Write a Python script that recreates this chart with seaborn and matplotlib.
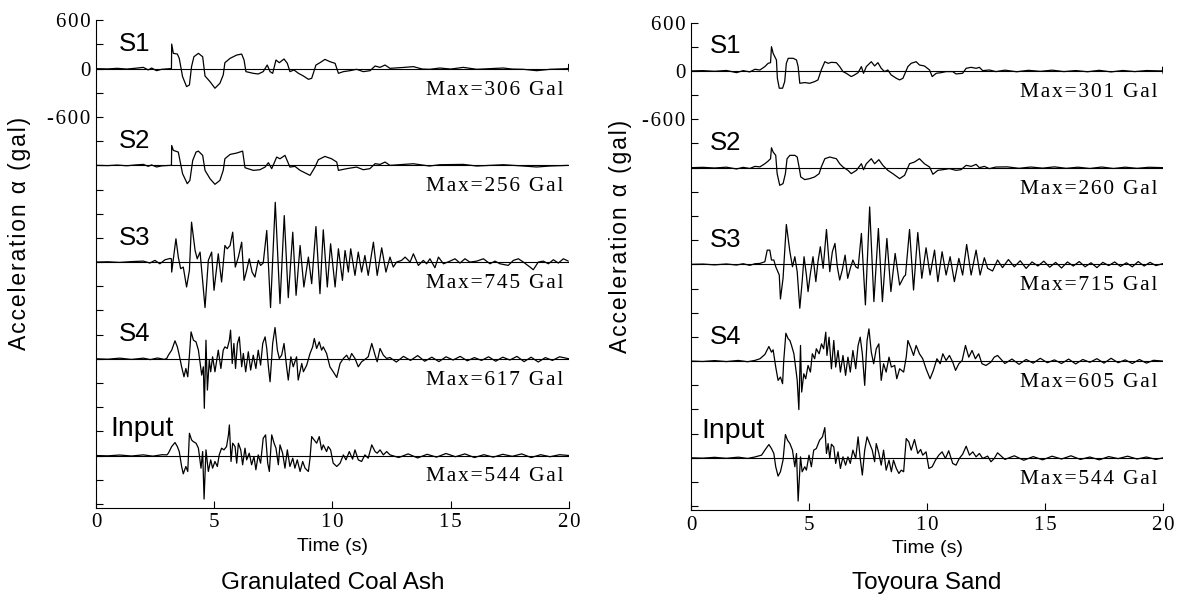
import numpy as np
import pandas as pd
import matplotlib
matplotlib.use("Agg")
import matplotlib.pyplot as plt
import seaborn as sns

sns.set_style("ticks")
plt.rcParams['font.family'] = ['Liberation Sans', 'DejaVu Sans']
plt.rcParams['text.color'] = 'black'
plt.rcParams['axes.labelcolor'] = 'black'
plt.rcParams['xtick.color'] = 'black'
plt.rcParams['ytick.color'] = 'black'

# ---------------- data (time s, acceleration gal) ----------------
# Granulated Coal Ash
gca_s1_t = [0.0, 0.5, 0.9, 1.3, 1.7, 2.0, 2.21, 2.35, 2.56, 2.78, 3.13, 3.19, 3.20, 3.27, 3.44, 3.52, 3.66, 3.83, 3.95, 4.04, 4.14, 4.33, 4.51, 4.61, 4.82, 5.03, 5.24, 5.38, 5.45, 5.67, 5.95, 6.16, 6.26, 6.34, 6.65, 6.86, 7.07, 7.24, 7.36, 7.47, 7.61, 7.75, 7.95, 8.09, 8.20, 8.37, 8.56, 8.77, 8.98, 9.12, 9.30, 9.47, 9.68, 9.89, 10.11, 10.25, 10.46, 10.74, 11.02, 11.30, 11.59, 11.80, 12.01, 12.22, 12.43, 13.0, 13.42, 13.8, 14.12, 14.54, 15.0, 15.53, 16.1, 16.66, 17.22, 17.6, 18.07, 18.63, 19.2, 19.97, 20.0, 20.0]
gca_s1_a = [0, -3, 4, -5, 6, 16, -16, 8, -25, -8, 0, 0, 305, 190, 181, 128, -99, -223, -202, 25, 148, 190, 148, -91, -161, -243, -181, -78, 74, 128, 169, 181, 107, -37, -58, -66, -37, 45, -37, -58, 107, 74, 120, 66, -37, -16, -58, -91, -132, -120, 45, 74, 115, 87, 66, -58, -37, -25, -8, -37, -25, 33, 16, 45, 4, 15, 25, -5, -8, 8, -5, 16, -8, 0, 8, -5, -8, -25, -8, 0, 55, -35]

gca_s2_t = [0.0, 0.5, 0.9, 1.3, 1.7, 2.0, 2.21, 2.35, 2.56, 2.78, 3.13, 3.19, 3.20, 3.27, 3.48, 3.66, 3.86, 3.97, 4.09, 4.23, 4.33, 4.51, 4.61, 4.82, 5.03, 5.24, 5.38, 5.45, 5.67, 5.95, 6.20, 6.30, 6.65, 6.93, 7.15, 7.29, 7.43, 7.64, 7.78, 7.99, 8.20, 8.41, 8.63, 9.05, 9.26, 9.40, 9.68, 9.96, 10.18, 10.25, 10.60, 11.02, 11.30, 11.58, 11.80, 12.01, 12.22, 12.43, 13.0, 13.42, 14.1, 14.54, 15.53, 16.1, 17.22, 18.07, 18.63, 19.2, 19.97]
gca_s2_a = [0, -3, 4, -5, 6, 12, -12, 6, -20, -6, 0, 0, 247, 186, 165, -103, -227, -186, 62, 165, 177, 124, -62, -165, -235, -186, -62, 82, 136, 153, 177, -29, -62, -54, -21, 33, -41, 103, 82, 124, -21, -12, -62, -124, -21, 70, 111, 82, 41, -62, -41, -21, -54, -41, 21, 12, 41, 0, 12, 20, -8, 8, 12, -8, 8, -8, -20, -8, 0]

gca_s3_t = [0.0, 0.5, 1.0, 1.5, 2.0, 2.28, 2.49, 2.70, 2.92, 3.13, 3.19, 3.20, 3.38, 3.48, 3.58, 3.69, 3.83, 3.95, 4.04, 4.19, 4.28, 4.40, 4.61, 4.75, 4.89, 4.99, 5.17, 5.31, 5.45, 5.55, 5.67, 5.78, 5.89, 6.02, 6.16, 6.26, 6.37, 6.48, 6.60, 6.72, 6.86, 6.96, 7.07, 7.22, 7.38, 7.58, 7.78, 7.96, 8.13, 8.32, 8.46, 8.63, 8.79, 8.98, 9.12, 9.30, 9.47, 9.61, 9.78, 9.92, 10.11, 10.25, 10.42, 10.53, 10.67, 10.77, 10.95, 11.09, 11.23, 11.37, 11.51, 11.73, 11.89, 12.08, 12.26, 12.43, 12.57, 12.71, 12.92, 13.07, 13.28, 13.42, 13.63, 13.84, 13.98, 14.12, 14.33, 14.48, 14.69, 14.97, 15.18, 15.39, 15.60, 15.81, 16.10, 16.38, 16.66, 16.87, 17.08, 17.43, 17.65, 17.86, 18.07, 18.35, 18.49, 18.70, 18.91, 19.13, 19.34, 19.55, 19.76, 19.97]
gca_s3_a = [0, 4, -4, 6, 12, -12, 21, -21, 29, 45, 40, -124, 289, 62, -82, -62, -309, -103, 495, 144, 41, 124, -565, 21, 124, -350, 103, -247, 206, 165, 206, 371, -62, 62, 247, -227, -103, 41, -124, -186, 21, -41, -12, 392, -565, 742, -515, 577, -441, 371, -412, 206, -309, 62, -268, 441, -392, 400, -309, 227, -309, 165, -227, 144, -124, 165, -165, 124, -124, 82, -165, 247, -165, 177, -124, 62, -62, 0, 21, 62, 0, 103, -41, 21, -21, 41, -70, 62, -21, 12, 41, -12, 41, 0, 12, 41, -21, 12, -21, -41, 21, 41, 0, -62, -95, 0, 12, -21, 29, -12, 41, 12]

gca_s4_t = [0.0, 0.5, 1.0, 1.5, 2.0, 2.3, 2.6, 2.9, 3.0, 3.06, 3.20, 3.34, 3.44, 3.52, 3.62, 3.72, 3.80, 3.88, 3.95, 4.02, 4.12, 4.23, 4.33, 4.47, 4.54, 4.58, 4.65, 4.71, 4.79, 4.85, 4.93, 5.03, 5.17, 5.28, 5.38, 5.45, 5.55, 5.64, 5.69, 5.76, 5.83, 5.90, 5.98, 6.06, 6.16, 6.23, 6.33, 6.44, 6.54, 6.65, 6.76, 6.86, 6.96, 7.05, 7.15, 7.22, 7.29, 7.36, 7.47, 7.57, 7.67, 7.75, 7.85, 7.95, 8.06, 8.13, 8.24, 8.34, 8.48, 8.55, 8.70, 8.77, 8.91, 9.05, 9.16, 9.23, 9.33, 9.44, 9.54, 9.61, 9.75, 9.89, 10.03, 10.18, 10.32, 10.46, 10.60, 10.71, 10.81, 10.95, 11.09, 11.23, 11.37, 11.51, 11.66, 11.80, 11.89, 12.01, 12.15, 12.29, 12.43, 12.7, 13.0, 13.3, 13.6, 13.9, 14.2, 14.5, 14.8, 15.1, 15.4, 15.7, 16.0, 16.3, 16.6, 16.9, 17.2, 17.5, 17.8, 18.1, 18.4, 18.7, 19.0, 19.3, 19.6, 20.0]
gca_s4_a = [0, -5, 8, -8, 8, -10, 10, -8, 8, 45, 107, 223, 148, 45, -99, -223, -120, -223, 45, 334, 231, 210, 107, -202, -99, -614, 231, -388, -16, -161, 25, -161, 107, -120, 107, 148, 128, 231, 355, -58, 190, -120, 190, 272, -99, 66, -161, 87, -140, 45, -120, 107, -78, 190, 272, 128, -99, -285, 190, 388, 107, 4, 45, 190, -99, -264, 25, -99, 25, -264, -58, -161, -78, 66, 148, 252, 128, 210, 107, 148, 66, -99, -161, -231, -58, 4, 45, -16, 66, 4, -99, -37, -8, 25, 190, 45, -37, 128, 45, 4, 16, -40, 30, -20, 40, -30, 20, -35, 25, -15, 30, -25, 15, -20, 25, -30, 20, -15, 30, -35, 20, -40, 15, -20, 25, 0]

gca_in_t = [0.0, 0.5, 1.0, 1.5, 2.0, 2.4, 2.8, 3.0, 3.06, 3.20, 3.34, 3.44, 3.52, 3.62, 3.69, 3.80, 3.88, 3.95, 4.04, 4.11, 4.23, 4.33, 4.44, 4.51, 4.57, 4.65, 4.75, 4.85, 4.93, 5.03, 5.13, 5.21, 5.31, 5.41, 5.52, 5.60, 5.64, 5.71, 5.78, 5.88, 5.95, 6.02, 6.12, 6.20, 6.30, 6.37, 6.48, 6.58, 6.68, 6.76, 6.86, 6.96, 7.07, 7.17, 7.26, 7.33, 7.43, 7.53, 7.61, 7.71, 7.78, 7.89, 7.99, 8.09, 8.20, 8.32, 8.41, 8.51, 8.63, 8.74, 8.84, 8.98, 9.05, 9.12, 9.22, 9.33, 9.44, 9.54, 9.61, 9.75, 9.82, 9.92, 10.03, 10.18, 10.32, 10.46, 10.57, 10.71, 10.85, 10.95, 11.09, 11.23, 11.37, 11.51, 11.66, 11.80, 11.89, 12.01, 12.15, 12.29, 12.43, 12.8, 13.2, 13.6, 14.0, 14.4, 14.8, 15.2, 15.6, 16.0, 16.4, 16.8, 17.2, 17.6, 18.0, 18.4, 18.8, 19.2, 19.6, 20.0]
gca_in_a = [0, -4, 6, -6, 8, -8, 10, 8, 29, 111, 161, 111, 49, -136, -227, -136, -198, 276, 194, 173, 153, 91, -157, 49, -540, 70, -198, -54, -157, -74, -136, 8, 91, 70, 111, 256, 379, -74, 153, 111, -95, 153, 70, -115, 91, -54, 29, -115, -12, -177, 8, -95, 214, 256, -95, -198, 256, 153, 91, -115, 132, 29, -157, 70, -136, -33, -157, -54, -198, -74, -157, -198, -33, 235, 194, 153, 235, 70, 132, 49, 111, 70, -95, -136, -95, 8, -54, 49, -45, 70, -54, -74, 8, -33, 132, 49, 29, 70, 8, 49, 8, -25, 20, -30, 15, -20, 25, -15, 20, -25, 10, -20, 15, -10, 20, -25, 10, -15, 10, 0]

# Toyoura Sand
ts_s1_t = [0.0, 0.5, 1.0, 1.5, 1.93, 2.21, 2.49, 2.71, 2.92, 3.13, 3.27, 3.37, 3.41, 3.48, 3.55, 3.62, 3.66, 3.74, 3.88, 3.97, 4.04, 4.12, 4.33, 4.47, 4.54, 4.61, 4.82, 5.03, 5.24, 5.38, 5.52, 5.67, 5.81, 5.95, 6.16, 6.30, 6.44, 6.58, 6.79, 6.93, 7.08, 7.22, 7.31, 7.43, 7.64, 7.78, 7.92, 8.06, 8.20, 8.34, 8.48, 8.70, 8.84, 8.98, 9.19, 9.33, 9.54, 9.68, 9.89, 10.11, 10.22, 10.39, 10.60, 10.81, 11.09, 11.23, 11.51, 11.66, 11.87, 12.08, 12.22, 12.36, 12.64, 12.92, 13.3, 13.8, 14.3, 14.8, 15.3, 15.8, 16.3, 16.8, 17.3, 17.8, 18.3, 18.8, 19.3, 19.97, 20.0, 20.0]
ts_s1_a = [0, 4, -4, 6, -21, 4, -12, 21, 12, 54, 95, 103, 301, 219, 177, 136, -91, -214, -214, -132, 95, 157, 157, 136, 54, -153, -144, -153, -132, -111, 12, 115, 95, 107, 103, 54, -8, -29, -70, -49, -21, 54, -29, 54, 115, 62, 103, 33, -8, 12, -49, -91, -111, -91, 54, 95, 115, 74, 62, 12, -70, -29, -21, -8, -8, -37, -29, 33, 45, 33, 45, 4, 12, -8, 10, -10, 8, -5, 10, -8, 5, -10, 8, -12, 6, -8, 5, 0, 50, -30]

ts_s2_t = [0.0, 0.5, 1.0, 1.5, 1.93, 2.21, 2.49, 2.71, 2.92, 3.13, 3.27, 3.37, 3.41, 3.48, 3.59, 3.65, 3.76, 3.90, 4.00, 4.07, 4.19, 4.40, 4.50, 4.58, 4.65, 4.82, 5.03, 5.24, 5.43, 5.52, 5.67, 5.88, 6.16, 6.30, 6.44, 6.65, 6.79, 7.01, 7.22, 7.31, 7.43, 7.64, 7.78, 7.96, 8.13, 8.34, 8.55, 8.84, 9.05, 9.26, 9.47, 9.68, 9.89, 10.11, 10.25, 10.46, 10.67, 10.95, 11.23, 11.44, 11.66, 11.87, 12.08, 12.22, 12.43, 12.64, 12.92, 13.4, 13.9, 14.4, 14.9, 15.4, 15.9, 16.4, 16.9, 17.4, 17.9, 18.4, 18.9, 19.4, 20.0]
ts_s2_a = [0, 4, -4, 6, -16, 4, -10, 16, 10, 49, 82, 111, 247, 194, 153, -74, -219, -198, -74, 111, 153, 153, 132, 8, -115, -148, -136, -115, -74, 8, 111, 132, 111, 49, 8, -33, -74, -33, 49, -25, 49, 111, 49, 99, 29, -33, -74, -136, -95, 49, 70, 111, 49, 8, -82, -33, -25, -12, -33, -25, 29, 16, 41, 0, 16, -12, 8, 10, -8, 8, -6, 10, -8, 6, -10, 8, -10, 6, -8, 5, 0]

ts_s3_t = [0.0, 0.5, 1.0, 1.5, 1.93, 2.21, 2.49, 2.71, 2.92, 3.13, 3.23, 3.34, 3.41, 3.51, 3.59, 3.65, 3.74, 3.79, 3.90, 4.04, 4.19, 4.30, 4.40, 4.50, 4.61, 4.71, 4.79, 4.89, 4.96, 5.06, 5.17, 5.29, 5.38, 5.48, 5.60, 5.74, 5.88, 5.99, 6.10, 6.20, 6.30, 6.41, 6.53, 6.64, 6.75, 6.86, 6.98, 7.08, 7.22, 7.39, 7.57, 7.75, 7.94, 8.11, 8.30, 8.47, 8.65, 8.84, 9.02, 9.09, 9.26, 9.43, 9.61, 9.78, 9.96, 10.13, 10.32, 10.46, 10.64, 10.81, 10.98, 11.16, 11.35, 11.51, 11.68, 11.87, 12.08, 12.25, 12.43, 12.57, 12.78, 12.99, 13.2, 13.45, 13.7, 13.95, 14.2, 14.45, 14.7, 14.95, 15.2, 15.45, 15.7, 15.95, 16.2, 16.45, 16.7, 16.95, 17.2, 17.45, 17.7, 17.95, 18.2, 18.45, 18.7, 18.95, 19.2, 19.45, 19.7, 20.0]
ts_s3_a = [0, 4, -6, 5, -8, 8, -12, 8, 12, 33, 177, 177, 54, 54, -29, -70, -132, -429, -173, 495, 157, -29, 95, -91, -544, -214, 95, -132, -338, -111, 95, -214, 33, 219, -49, 433, -91, 157, 260, -29, -194, -70, 115, -173, -49, 54, -29, -49, 384, -503, 713, -462, 445, -462, 322, -338, 136, -256, -153, -132, 433, -318, 396, -173, 206, -132, 177, -214, 157, -132, 95, -214, 74, -132, 247, -132, 177, -132, 82, -49, -82, 54, -40, 60, -30, 45, -50, 30, -20, 40, -35, 25, -45, 30, -20, 35, -30, 20, -40, 25, -15, 30, -25, 20, -30, 35, -20, 25, -15, 10]

ts_s4_t = [0.0, 0.5, 1.0, 1.5, 2.0, 2.4, 2.7, 2.92, 3.13, 3.30, 3.41, 3.48, 3.59, 3.69, 3.79, 3.88, 3.93, 4.02, 4.12, 4.19, 4.26, 4.36, 4.44, 4.50, 4.57, 4.64, 4.69, 4.78, 4.86, 4.96, 5.06, 5.14, 5.24, 5.31, 5.43, 5.53, 5.62, 5.71, 5.76, 5.85, 5.95, 6.05, 6.13, 6.23, 6.33, 6.44, 6.55, 6.65, 6.75, 6.86, 6.98, 7.08, 7.17, 7.26, 7.36, 7.46, 7.54, 7.64, 7.74, 7.85, 7.96, 8.06, 8.16, 8.27, 8.39, 8.49, 8.63, 8.72, 8.84, 9.01, 9.12, 9.19, 9.33, 9.43, 9.54, 9.68, 9.82, 9.96, 10.13, 10.27, 10.42, 10.56, 10.67, 10.81, 10.95, 11.09, 11.21, 11.35, 11.49, 11.63, 11.77, 11.91, 12.05, 12.19, 12.33, 12.50, 12.71, 12.85, 12.99, 13.3, 13.6, 13.9, 14.2, 14.5, 14.8, 15.1, 15.4, 15.7, 16.0, 16.3, 16.6, 16.9, 17.2, 17.5, 17.8, 18.1, 18.4, 18.7, 19.0, 19.3, 19.6, 20.0]
ts_s4_a = [0, -5, 6, -6, 8, -8, 8, 29, 82, 181, 111, 140, -74, -239, -198, -280, 8, 346, 276, 256, 194, 91, -95, -239, -602, 194, -384, -157, -219, -54, -136, 91, 29, 153, 91, 214, 153, 359, 70, 297, -95, 256, -74, 132, -136, 70, -177, 49, -136, 132, -95, 194, 297, 91, -301, 256, 400, 111, -33, 153, 214, -239, -33, -136, 49, -74, -54, -219, -95, -136, 49, 256, 153, 70, 194, 91, 29, -95, -219, -115, 29, -33, 91, 8, 70, -12, -115, -33, 8, 194, 49, 132, 29, 91, -33, -54, -12, 49, 70, -30, 25, -40, 20, -25, 35, -20, 15, -30, 25, -35, 20, -15, 30, -25, 35, -20, 15, -30, 20, -25, 10, 0]

ts_in_t = [0.0, 0.5, 1.0, 1.5, 2.0, 2.4, 2.7, 2.99, 3.13, 3.30, 3.41, 3.51, 3.59, 3.69, 3.79, 3.90, 4.00, 4.09, 4.19, 4.30, 4.40, 4.47, 4.54, 4.64, 4.71, 4.82, 4.89, 5.00, 5.10, 5.20, 5.31, 5.45, 5.57, 5.67, 5.74, 5.81, 5.88, 5.95, 6.05, 6.13, 6.23, 6.33, 6.44, 6.55, 6.65, 6.75, 6.86, 6.98, 7.08, 7.17, 7.26, 7.36, 7.46, 7.57, 7.68, 7.78, 7.85, 7.96, 8.06, 8.16, 8.27, 8.39, 8.49, 8.58, 8.70, 8.81, 8.91, 9.01, 9.12, 9.23, 9.33, 9.47, 9.61, 9.73, 9.82, 9.96, 10.08, 10.22, 10.36, 10.50, 10.64, 10.78, 10.92, 11.09, 11.23, 11.37, 11.51, 11.66, 11.80, 11.94, 12.08, 12.22, 12.36, 12.57, 12.71, 12.85, 12.99, 13.3, 13.7, 14.1, 14.5, 14.9, 15.3, 15.7, 16.1, 16.5, 16.9, 17.3, 17.7, 18.1, 18.5, 18.9, 19.3, 19.7, 20.0]
ts_in_a = [0, -4, 6, -6, 8, -8, 10, 33, 95, 165, 115, 54, -111, -227, -173, -29, 289, 219, 177, 95, -111, 54, -536, 12, -173, -111, -153, 33, -111, 95, 115, 219, 260, 375, 54, 177, -8, 169, 136, -70, 74, -132, 12, -91, 12, -70, 95, -8, 260, -8, -214, 95, 260, 177, 95, -49, 177, 54, -91, 95, -153, -29, -173, -29, -132, -194, -153, -173, 239, 198, 95, 227, 54, 103, 33, 74, -132, -111, -29, 33, 74, -8, 87, -70, -91, -8, 45, 144, 33, 74, 12, 54, -8, 21, -49, -8, 62, -20, 25, -30, 15, -25, 20, -15, 25, -20, 10, -25, 15, -10, 20, -15, 10, -20, 0]

channels = ["S1", "S2", "S3", "S4", "Input"]
offsets = [0, -1200, -2400, -3600, -4800]
gca_max = [306, 256, 745, 617, 544]
ts_max = [301, 260, 715, 605, 544]
titles = ["Granulated Coal Ash", "Toyoura Sand"]
x_ticks = [0, 5, 10, 15, 20]
y_labelled = {600: "600", 0: "0", -600: "-600"}

gca = [(gca_s1_t, gca_s1_a), (gca_s2_t, gca_s2_a), (gca_s3_t, gca_s3_a),
       (gca_s4_t, gca_s4_a), (gca_in_t, gca_in_a)]
ts = [(ts_s1_t, ts_s1_a), (ts_s2_t, ts_s2_a), (ts_s3_t, ts_s3_a),
      (ts_s4_t, ts_s4_a), (ts_in_t, ts_in_a)]

HS = "\u200a"  # hair space: reproduces the loose letter spacing of the scan


def spaced(s):
    return HS.join(list(s))


W, H = 1181, 610
fig = plt.figure(figsize=(W / 100, H / 100), dpi=100)

panels = [
    dict(data=gca, maxes=gca_max, title=titles[0], rect=[96, 20.3, 569, 507.9],
         sx=0.97, inx=0.62, ylab=(20, 233)),
    dict(data=ts, maxes=ts_max, title=titles[1], rect=[691, 22.6, 1163, 510.2],
         sx=0.80, inx=0.45, ylab=(620, 236)),
]

serif = ["Liberation Serif", "DejaVu Serif"]
for p in panels:
    x0, y0, x1, y1 = p["rect"]
    ax = fig.add_axes([x0 / W, 1 - y1 / H, (x1 - x0) / W, (y1 - y0) / H])
    for (t, a), off, name, mx in zip(p["data"], offsets, channels, p["maxes"]):
        df = pd.DataFrame({"t": t, "a": np.asarray(a, dtype=float) + off})
        ax.axhline(off, color="black", lw=0.8, zorder=1)
        sns.lineplot(data=df, x="t", y="a", ax=ax, color="black", lw=0.9,
                     estimator=None, sort=False, zorder=2)
        if name == "Input":
            ax.text(p["inx"], off + 330, name, fontsize=20.5, color="black",
                    ha="left", va="center", family=["Liberation Sans"])
        else:
            ax.text(p["sx"], off + 305, name, fontsize=18.5, color="black",
                    ha="left", va="center", family=["Liberation Sans"])
        ax.text(19.75, off - 265, spaced("Max=%d Gal" % mx), fontsize=15.5,
                color="black", ha="right", va="center", family=serif)
    yt = np.arange(600, -5401, -300)
    ax.set_xlim(0, 20)
    ax.set_ylim(-5450, 600)
    ax.set_xticks(x_ticks)
    ax.set_xticklabels([spaced(str(v)) for v in x_ticks])
    ax.set_yticks(yt)
    ax.set_yticklabels([spaced(y_labelled.get(int(v), "")) for v in yt])
    for lab in ax.get_xticklabels() + ax.get_yticklabels():
        lab.set_fontfamily(serif)
        lab.set_fontsize(15)
        lab.set_color("black")
    ax.tick_params(direction="in", length=5, width=0.8, color="black", pad=4)
    sns.despine(ax=ax, top=True, right=True)
    for s in ["left", "bottom"]:
        ax.spines[s].set_linewidth(0.8)
        ax.spines[s].set_color("black")
    ax.set_xlabel("Time (s)", fontsize=14, labelpad=4, color="black")
    ax.set_ylabel("")
    ax.patch.set_alpha(0)
    fig.text(p["ylab"][0] / W, 1 - p["ylab"][1] / H,
             spaced("Acceleration \u03b1 (gal)"),
             fontsize=16.5, rotation=90, ha="center", va="center", color="black")
    fig.text((x0 + x1) / 2 / W, 1 - 583 / H, p["title"], fontsize=17.5,
             ha="center", va="center", color="black")

fig.savefig("out.png", dpi=100)
